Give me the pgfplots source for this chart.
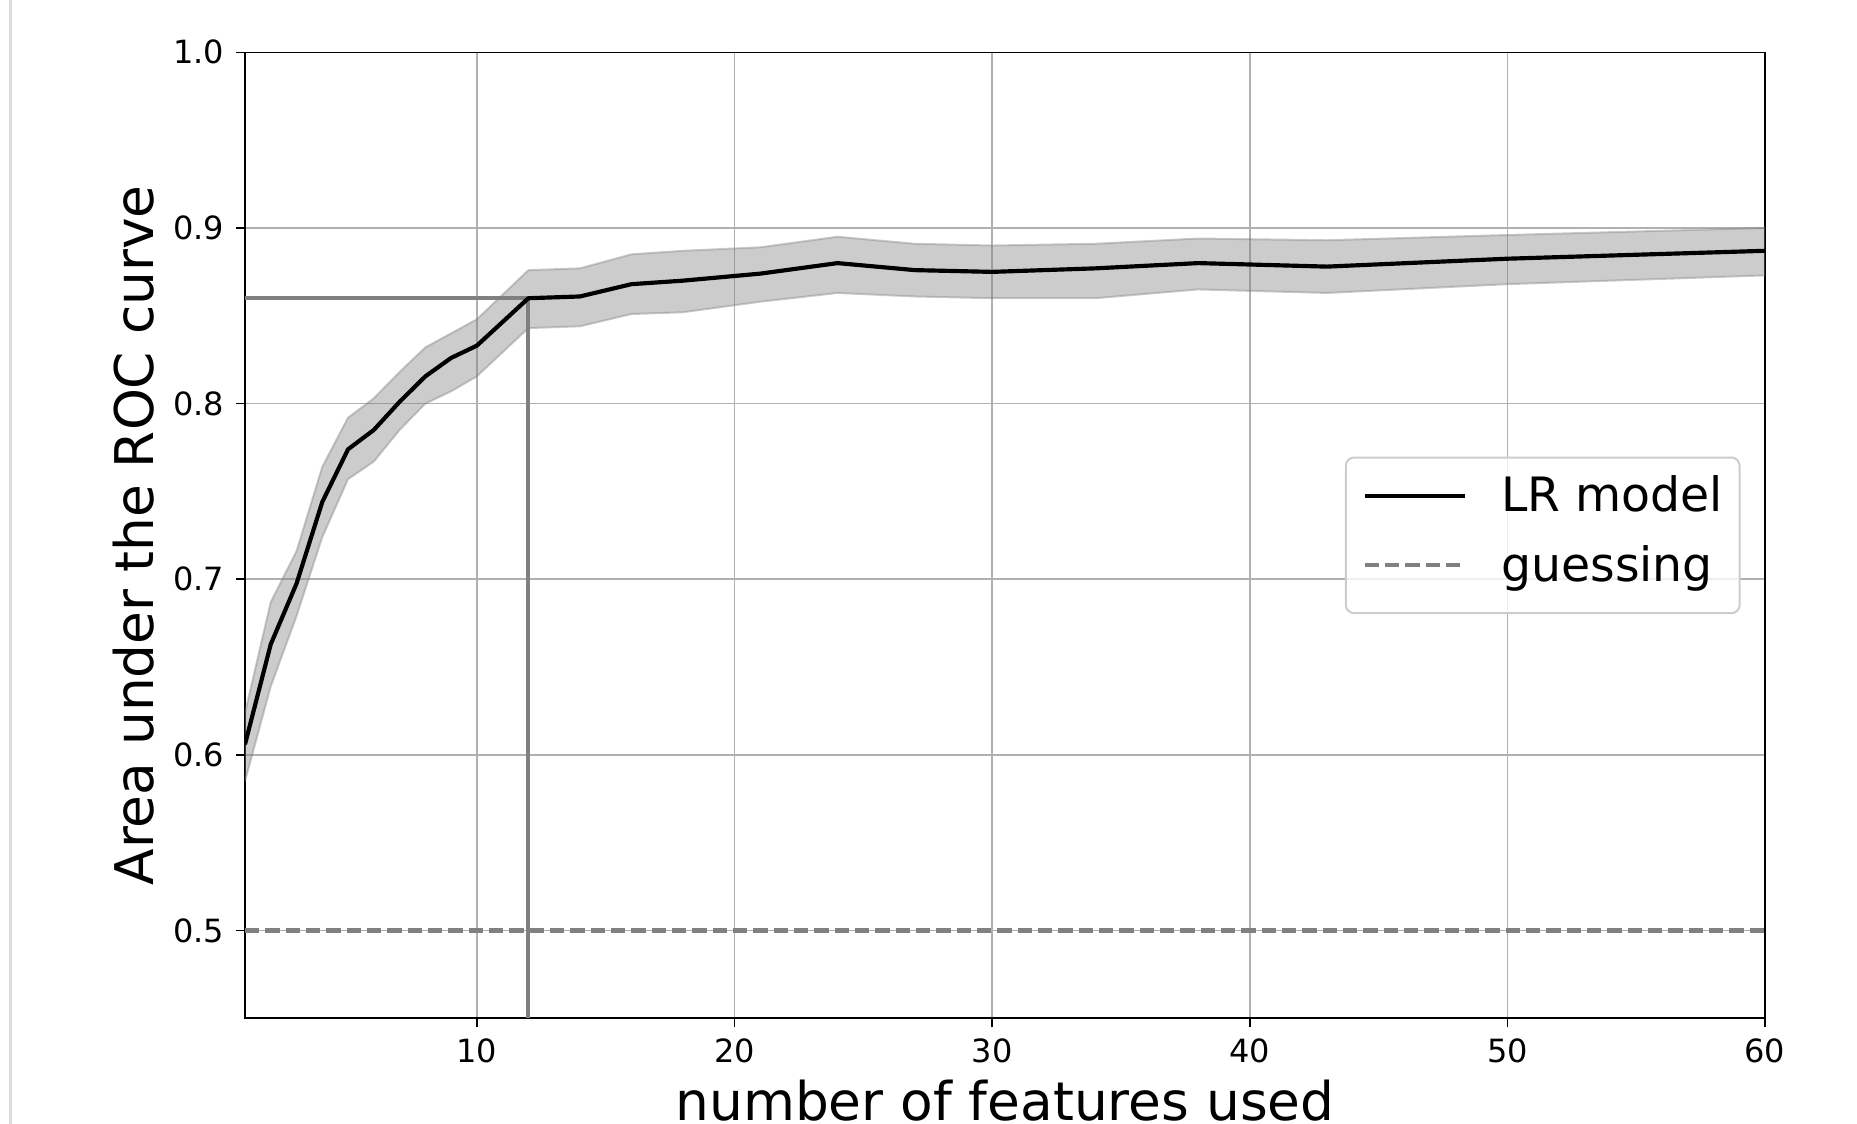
\documentclass[border=0pt]{standalone}
\usepackage{fontspec}
\setmainfont{DejaVu Sans}
\usepackage{pgfplots}
\usepackage{pgfplotstable}
\pgfplotsset{compat=1.18}
\usepgfplotslibrary{fillbetween}
\definecolor{gridgray}{HTML}{B0B0B0}
\definecolor{refgray}{HTML}{808080}
\definecolor{legframe}{HTML}{CCCCCC}
\definecolor{pagegray}{HTML}{DCDCDC}

\pgfplotstableread{
x  m      up     lo
1  0.606  0.624  0.585
2  0.663  0.687  0.639
3  0.6975 0.716  0.679
4  0.744  0.764  0.724
5  0.774  0.792  0.757
6  0.785  0.803  0.767
7  0.801  0.818  0.785
8  0.8155 0.832  0.800
9  0.826  0.840  0.807
10 0.833  0.848  0.8155
12 0.860  0.876  0.843
14 0.861  0.877  0.844
16 0.868  0.885  0.851
18 0.870  0.887  0.852
21 0.874  0.889  0.858
24 0.880  0.895  0.863
27 0.876  0.891  0.861
30 0.875  0.890  0.860
34 0.877  0.891  0.860
38 0.880  0.894  0.865
43 0.878  0.893  0.863
50 0.8825 0.896  0.868
60 0.887  0.900  0.873
}\roc

\begin{document}
\begin{tikzpicture}
\begin{axis}[
  at={(0,0)}, anchor=south west,
  scale only axis, width=456pt, height=289.8pt,
  xmin=1, xmax=60, ymin=0.45, ymax=1.0,
  xtick={10,20,30,40,50,60},
  xticklabels={10,20,30,40,50,60},
  ytick={0.5,0.6,0.7,0.8,0.9,1.0},
  yticklabels={0.5,0.6,0.7,0.8,0.9,1.0},
  xtick pos=lower, ytick pos=left,
  grid=major,
  major grid style={gridgray, line width=0.5pt},
  tick align=outside, major tick length=2.7pt,
  tick style={black, line width=0.5pt},
  axis line style={black, line width=0.5pt},
  tick label style={font=\fontsize{9.6}{9.6}\selectfont},
  xticklabel style={anchor=base, inner sep=0pt, yshift=-10.6pt},
  yticklabel style={anchor=east, inner sep=0pt, xshift=-3.4pt},
  xlabel={number of features used},
  xlabel style={at={([yshift=-30.8pt]axis description cs:0.5,0)}, anchor=base, inner sep=0pt, font=\fontsize{16}{16}\selectfont},
  ylabel={Area under the ROC curve},
  ylabel style={at={([xshift=-33.4pt]axis description cs:0,0.5)}, anchor=center, inner sep=0pt, font=\fontsize{16}{16}\selectfont},
  legend image code/.code={\draw[#1] (0pt,1.4pt) -- (30pt,1.4pt);},
  legend cell align=left,
  legend style={at={(axis description cs:0.984,0.5)}, anchor=east,
    draw=legframe, line width=0.6pt, rounded corners=2.5pt,
    fill=white, fill opacity=0.8, draw opacity=1, text opacity=1,
    font=\fontsize{14.2}{14.2}\selectfont,
    inner xsep=5pt, inner ysep=5.3pt, row sep=5.5pt, column sep=10.4pt,
    nodes={inner sep=0pt, text height=11pt, text depth=4.3pt}},
]
\addplot[name path=up, draw=refgray, draw opacity=0.4, line width=0.6pt, forget plot] table[x=x,y=up]{\roc};
\addplot[name path=lo, draw=refgray, draw opacity=0.4, line width=0.6pt, forget plot] table[x=x,y=lo]{\roc};
\addplot[fill=refgray, fill opacity=0.4, draw=none, forget plot] fill between[of=up and lo];
\addplot[refgray, line width=1.15pt, forget plot] coordinates {(1,0.86) (12,0.86) (12,0.45)};
\addplot[black, line width=1.25pt, line join=round] table[x=x,y=m]{\roc};
\addlegendentry{LR model\hspace{2.3pt}}
\addplot[refgray, line width=1.25pt, dash pattern=on 4.3pt off 1.8pt] coordinates {(1,0.5) (60,0.5)};
\addlegendentry{guessing}
\end{axis}
\draw[pagegray, line width=0.8pt] (-70.3pt,-31.7pt) -- (-70.3pt,305.5pt);
\pgfresetboundingbox
\path[use as bounding box] (-73.5pt,-31.7pt) rectangle (483.6pt,305.5pt);
\end{tikzpicture}
\end{document}
